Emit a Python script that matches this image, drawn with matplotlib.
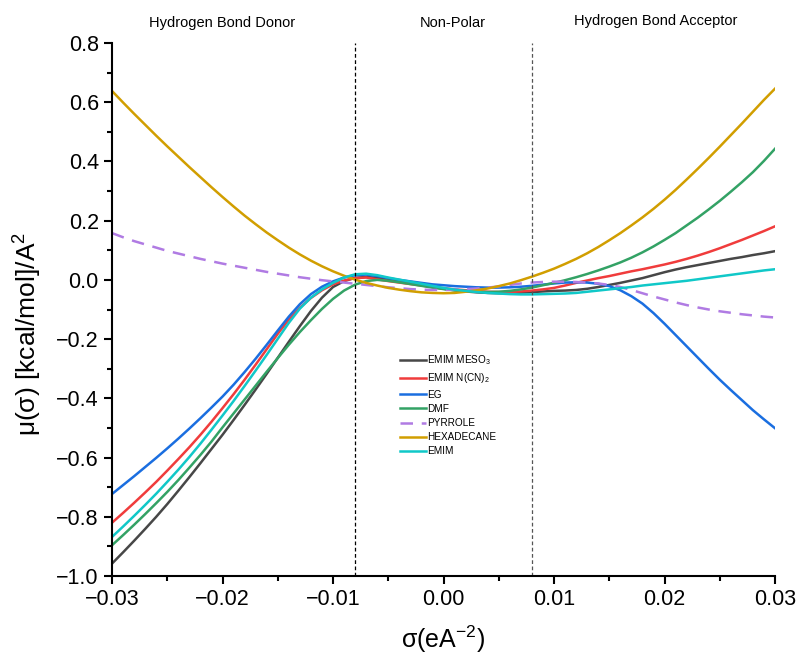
import numpy as np
import matplotlib
matplotlib.use("Agg")
import matplotlib.pyplot as plt
from matplotlib.ticker import MultipleLocator, AutoMinorLocator

plt.rcParams['font.family'] = ['Liberation Sans', 'DejaVu Sans']
plt.rcParams['mathtext.fontset'] = 'custom'
plt.rcParams['mathtext.rm'] = 'Liberation Sans'
plt.rcParams['mathtext.it'] = 'Liberation Sans:italic'

# sigma grid (e/A^2), read every 0.001
sigma = [-0.030, -0.029, -0.028, -0.027, -0.026, -0.025, -0.024, -0.023, -0.022, -0.021,
         -0.020, -0.019, -0.018, -0.017, -0.016, -0.015, -0.014, -0.013, -0.012, -0.011,
         -0.010, -0.009, -0.008, -0.007, -0.006, -0.005, -0.004, -0.003, -0.002, -0.001,
         0.000, 0.001, 0.002, 0.003, 0.004, 0.005, 0.006, 0.007, 0.008, 0.009,
         0.010, 0.011, 0.012, 0.013, 0.014, 0.015, 0.016, 0.017, 0.018, 0.019,
         0.020, 0.021, 0.022, 0.023, 0.024, 0.025, 0.026, 0.027, 0.028, 0.029, 0.030]

emim_meso3 = [-0.958, -0.920, -0.881, -0.841, -0.800, -0.757, -0.712, -0.666, -0.619, -0.571,
              -0.523, -0.473, -0.422, -0.370, -0.317, -0.263, -0.209, -0.156, -0.105, -0.060,
              -0.024, -0.004, 0.007, 0.010, 0.007, 0.002, -0.004, -0.010, -0.017, -0.024,
              -0.030, -0.035, -0.039, -0.042, -0.044, -0.045, -0.045, -0.043, -0.041, -0.039,
              -0.037, -0.036, -0.034, -0.030, -0.024, -0.017, -0.010, -0.002, 0.006, 0.016,
              0.026, 0.035, 0.043, 0.050, 0.057, 0.064, 0.071, 0.077, 0.084, 0.090, 0.097]
emim_ncn2 = [-0.820, -0.787, -0.753, -0.718, -0.682, -0.644, -0.605, -0.565, -0.523, -0.479,
             -0.433, -0.386, -0.337, -0.286, -0.234, -0.182, -0.134, -0.094, -0.061, -0.035,
             -0.015, -0.002, 0.006, 0.008, 0.002, -0.004, -0.009, -0.014, -0.019, -0.024,
             -0.028, -0.032, -0.035, -0.038, -0.040, -0.041, -0.041, -0.039, -0.036, -0.032,
             -0.027, -0.019, -0.010, -0.002, 0.006, 0.013, 0.021, 0.029, 0.036, 0.044,
             0.052, 0.061, 0.071, 0.082, 0.094, 0.107, 0.121, 0.135, 0.150, 0.165, 0.181]
eg = [-0.723, -0.693, -0.663, -0.632, -0.601, -0.569, -0.536, -0.502, -0.467, -0.431,
      -0.394, -0.354, -0.311, -0.266, -0.219, -0.171, -0.124, -0.082, -0.048, -0.023,
      -0.005, 0.008, 0.016, 0.018, 0.013, 0.006, 0.000, -0.005, -0.010, -0.015,
      -0.018, -0.021, -0.023, -0.025, -0.026, -0.026, -0.025, -0.023, -0.020, -0.016,
      -0.012, -0.009, -0.008, -0.009, -0.013, -0.021, -0.035, -0.055, -0.080, -0.112,
      -0.148, -0.186, -0.224, -0.262, -0.300, -0.337, -0.372, -0.406, -0.440, -0.471, -0.501]
dmf = [-0.896, -0.862, -0.827, -0.791, -0.754, -0.716, -0.676, -0.634, -0.591, -0.546,
       -0.498, -0.451, -0.404, -0.357, -0.310, -0.264, -0.219, -0.176, -0.136, -0.098,
       -0.064, -0.036, -0.016, -0.004, 0.000, -0.003, -0.008, -0.014, -0.020, -0.026,
       -0.031, -0.035, -0.038, -0.040, -0.041, -0.040, -0.037, -0.032, -0.026, -0.018,
       -0.010, -0.001, 0.009, 0.020, 0.032, 0.045, 0.059, 0.075, 0.093, 0.113,
       0.135, 0.158, 0.184, 0.210, 0.238, 0.267, 0.298, 0.330, 0.364, 0.402, 0.443]
pyrrole = [0.158, 0.144, 0.131, 0.120, 0.109, 0.098, 0.089, 0.080, 0.071, 0.063,
           0.055, 0.048, 0.041, 0.034, 0.027, 0.021, 0.015, 0.009, 0.004, -0.001,
           -0.005, -0.009, -0.013, -0.017, -0.021, -0.025, -0.028, -0.031, -0.033, -0.034,
           -0.034, -0.033, -0.031, -0.029, -0.026, -0.022, -0.017, -0.012, -0.009, -0.007,
           -0.006, -0.006, -0.007, -0.009, -0.012, -0.017, -0.024, -0.034, -0.045, -0.056,
           -0.066, -0.076, -0.085, -0.093, -0.100, -0.106, -0.111, -0.116, -0.120, -0.124, -0.127]
hexadecane = [0.638, 0.599, 0.561, 0.524, 0.487, 0.451, 0.416, 0.381, 0.347, 0.313,
              0.280, 0.248, 0.217, 0.188, 0.160, 0.134, 0.109, 0.086, 0.065, 0.046,
              0.029, 0.014, 0.001, -0.010, -0.019, -0.027, -0.033, -0.038, -0.042, -0.044,
              -0.045, -0.044, -0.040, -0.035, -0.029, -0.021, -0.012, -0.001, 0.011, 0.024,
              0.038, 0.054, 0.071, 0.090, 0.111, 0.134, 0.158, 0.184, 0.211, 0.240,
              0.271, 0.304, 0.339, 0.375, 0.412, 0.450, 0.489, 0.528, 0.568, 0.608, 0.646]
emim = [-0.868, -0.833, -0.797, -0.760, -0.722, -0.682, -0.641, -0.598, -0.553, -0.506,
        -0.458, -0.409, -0.358, -0.306, -0.253, -0.199, -0.145, -0.097, -0.060, -0.032,
        -0.010, 0.008, 0.019, 0.021, 0.016, 0.008, 0.001, -0.006, -0.013, -0.020,
        -0.027, -0.033, -0.037, -0.041, -0.044, -0.046, -0.048, -0.049, -0.049, -0.048,
        -0.047, -0.046, -0.044, -0.040, -0.036, -0.032, -0.028, -0.024, -0.019, -0.015,
        -0.011, -0.007, -0.003, 0.002, 0.007, 0.012, 0.017, 0.022, 0.027, 0.032, 0.036]

series = [
    ("EMIM MESO$_3$", emim_meso3, "#474747", "-"),
    ("EMIM N(CN)$_2$", emim_ncn2, "#f03c3c", "-"),
    ("EG", eg, "#1a6ee0", "-"),
    ("DMF", dmf, "#33a265", "-"),
    ("PYRROLE", pyrrole, "#b07be3", "--"),
    ("HEXADECANE", hexadecane, "#d19e00", "-"),
    ("EMIM", emim, "#10c8c8", "-"),
]

regions = ["Hydrogen Bond Donor", "Non-Polar", "Hydrogen Bond Acceptor"]
region_x = [-0.02, 0.0008, 0.0192]
region_y = [0.845, 0.845, 0.852]
cutoffs = [-0.008, 0.008]

fig = plt.figure(figsize=(7.98, 6.61), dpi=100)
ax = fig.add_axes([0.1404, 0.1286, 0.8308, 0.8063])

for name, vals, col, ls in series:
    if ls == "--":
        ax.plot(sigma, vals, color=col, lw=1.8, ls=(0, (5, 3.5)), label=name)
    else:
        ax.plot(sigma, vals, color=col, lw=1.8, label=name)

ax.axvline(cutoffs[0], color="black", lw=0.9, ls=(0, (3, 2)))
ax.axvline(cutoffs[1], color="#555555", lw=0.9, ls=(0, (3, 2)))

for txt, xr, yr in zip(regions, region_x, region_y):
    ax.text(xr, yr, txt, ha="center", va="bottom", fontsize=10.5)

ax.set_xlim(-0.03, 0.03)
ax.set_ylim(-1.0, 0.8)
ax.xaxis.set_major_locator(MultipleLocator(0.01))
ax.yaxis.set_major_locator(MultipleLocator(0.2))
ax.xaxis.set_minor_locator(AutoMinorLocator(2))
ax.yaxis.set_minor_locator(AutoMinorLocator(2))
ax.tick_params(which="major", direction="out", length=6, width=1.5, labelsize=15.5)
ax.tick_params(which="minor", direction="out", length=3.5, width=1.5)
for s in ["top", "right"]:
    ax.spines[s].set_visible(False)
for s in ["left", "bottom"]:
    ax.spines[s].set_linewidth(1.5)

ax.set_xlabel("σ(eA$^{-2}$)", fontsize=18, labelpad=10)
ax.set_ylabel("μ(σ) [kcal/mol]/A$^2$", fontsize=19)
ax.yaxis.set_label_coords(-0.102, 0.455)

ax.legend(loc="upper left", bbox_to_anchor=(0.428, 0.425), frameon=False, fontsize=7.2,
          handlelength=2.6, handletextpad=0.15, labelspacing=0.42, borderaxespad=0)

fig.savefig("out.png", dpi=100)
